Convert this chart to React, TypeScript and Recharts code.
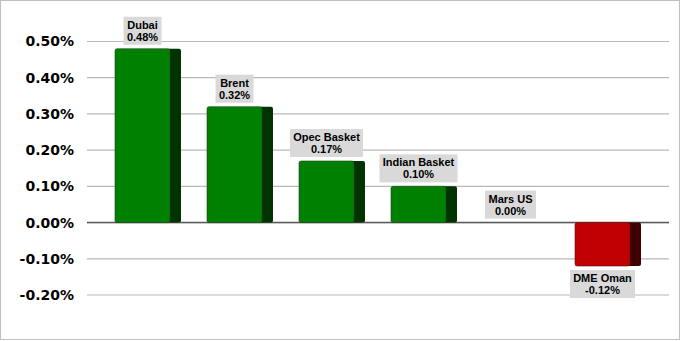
import { BarChart, Bar, XAxis, YAxis, CartesianGrid, LabelList } from 'recharts';

const crudes = ['Dubai', 'Brent', 'Opec Basket', 'Indian Basket', 'Mars US', 'DME Oman'];
const changes = [0.48, 0.32, 0.17, 0.1, 0.0, -0.12];
const yTicks = [-0.2, -0.1, 0, 0.1, 0.2, 0.3, 0.4, 0.5];

const data = crudes.map((name, i) => ({ name, value: changes[i] }));

const SIDE = 11;
const LABEL_FONT = "bold 11px 'Liberation Sans', Arial, sans-serif";

let ctx: CanvasRenderingContext2D | null = null;
function textWidth(text: string) {
  if (!ctx) ctx = document.createElement('canvas').getContext('2d');
  if (!ctx) return text.length * 6;
  ctx.font = LABEL_FONT;
  return ctx.measureText(text).width;
}

const fmt = (v: number) => `${v.toFixed(2)}%`;

function Bar3D(props: any) {
  const { x, y, width, height, payload } = props;
  const top = Math.min(y, y + height);
  const h = Math.abs(height);
  if (!h || h < 0.5) return null;
  const neg = payload.value < 0;
  const front = neg ? '#c00000' : '#008000';
  const side = neg ? '#3f0000' : '#003300';
  const edge = neg ? '#5a1010' : '#1f3f1f';
  const fw = width - SIDE;
  return (
    <g>
      <rect x={x + fw - 3} y={top} width={SIDE + 3} height={h} rx={2} fill={side} />
      <rect x={x} y={top} width={fw} height={h} rx={2} fill={front} stroke={edge} strokeWidth={0.6} />
    </g>
  );
}

function CrudeLabel(props: any) {
  const vb = props.viewBox ?? props;
  const { x, y, width, height } = vb;
  const i = props.index;
  const name = crudes[i];
  const v = changes[i];
  const line2 = fmt(v);
  const top = Math.min(y, y + height);
  const bottom = Math.max(y, y + height);
  const cx = x + (width - SIDE) / 2;
  const w = Math.ceil(Math.max(textWidth(name), textWidth(line2))) + 6;
  const h = 28;
  const boxTop = v < 0 ? bottom + 4 : top - 4 - h;
  return (
    <g>
      <rect x={cx - w / 2} y={boxTop} width={w} height={h} fill="#d9d9d9" />
      <text x={cx} y={boxTop + 12} textAnchor="middle" style={{ font: LABEL_FONT }} fill="#000">
        {name}
      </text>
      <text x={cx} y={boxTop + 24} textAnchor="middle" style={{ font: LABEL_FONT }} fill="#000">
        {line2}
      </text>
    </g>
  );
}

export default function App() {
  return (
    <div style={{ position: 'absolute', left: 0, top: 0, width: 681, height: 341, background: '#fff' }}>
      <div
        style={{
          position: 'absolute',
          left: 0,
          top: 0,
          width: 680,
          height: 340,
          border: '1px solid #bfbfbf',
          boxSizing: 'border-box',
        }}
      />
      <BarChart
        width={681}
        height={341}
        data={data}
        margin={{ top: 41.5, right: 12, bottom: 46, left: 0 }}
        style={{ position: 'absolute', left: 0, top: 0 }}
      >
        <CartesianGrid vertical={false} stroke="#b8b8b8" strokeWidth={1.2} />
        <CartesianGrid vertical={false} horizontalValues={[0]} stroke="#595959" strokeWidth={1.5} />
        <XAxis dataKey="name" hide padding={{ left: 15, right: 15 }} />
        <YAxis
          width={87}
          domain={[-0.2, 0.5]}
          ticks={yTicks}
          tickFormatter={fmt}
          axisLine={false}
          tickLine={false}
          tickMargin={7}
          tick={{ fill: '#000', fontSize: 14, fontWeight: 'bold', fontFamily: 'DejaVu Sans' }}
          interval={0}
        />
        <Bar dataKey="value" barSize={66} shape={<Bar3D />} isAnimationActive={false}>
          <LabelList dataKey="value" content={<CrudeLabel />} />
        </Bar>
      </BarChart>
    </div>
  );
}
